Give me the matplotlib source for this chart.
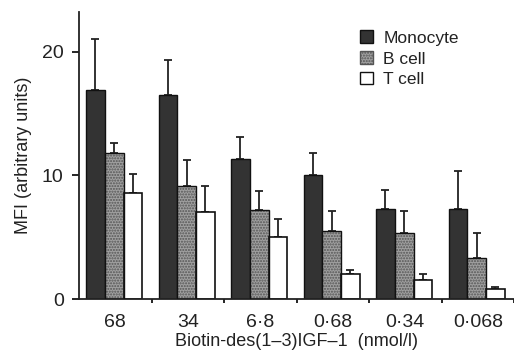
import matplotlib
matplotlib.use("Agg")
import matplotlib.pyplot as plt
import numpy as np

plt.rcParams['font.family'] = ['Liberation Sans', 'DejaVu Sans']

categories = ['68', '34', '6·8', '0·68', '0·34', '0·068']
series = ['Monocyte', 'B cell', 'T cell']
monocyte = [16.9, 16.5, 11.3, 10.0, 7.3, 7.3]
monocyte_err = [4.15, 2.85, 1.8, 1.8, 1.5, 3.05]
bcell = [11.8, 9.1, 7.2, 5.5, 5.3, 3.3]
bcell_err = [0.8, 2.15, 1.55, 1.6, 1.8, 2.0]
tcell = [8.6, 7.05, 5.0, 2.0, 1.5, 0.8]
tcell_err = [1.5, 2.05, 1.5, 0.35, 0.5, 0.2]

fig = plt.figure(figsize=(5.14, 3.54), dpi=100)
ax = fig.add_axes([79/514, 55/354, (514-79)/514, 287/354])

x = np.arange(len(categories))
w = 0.258
offs = [-w - 0.015, -0.015, w - 0.015]

# Monocyte
ax.bar(x + offs[0], monocyte, w, color='#333333', edgecolor='#111111', linewidth=1.0, zorder=2)
# B cell (dotted grey)
ax.bar(x + offs[1], bcell, w, color='#a0a0a0', edgecolor='#555555', hatch='......', linewidth=0, zorder=2)
ax.bar(x + offs[1], bcell, w, color='none', edgecolor='#111111', linewidth=1.0, zorder=3)
# T cell
ax.bar(x + offs[2], tcell, w, color='white', edgecolor='#111111', linewidth=1.2, zorder=2)

for vals, errs, o in [(monocyte, monocyte_err, offs[0]), (bcell, bcell_err, offs[1]), (tcell, tcell_err, offs[2])]:
    ax.errorbar(x + o, vals, yerr=[np.zeros(len(vals)), errs], fmt='none', ecolor='#222222',
                elinewidth=1.3, capsize=3.2, capthick=1.3, zorder=1)

ax.set_xlim(-0.5, 5.41)
ax.set_ylim(0, 23.2)
ax.set_yticks([0, 10, 20])
ax.set_yticklabels(['0', '10', '20'], fontsize=14, color='#222222')
ax.set_xticks(x + 0.5)
ax.set_xticklabels([])
ax.set_xticks(x, minor=True)
ax.set_xticklabels(categories, minor=True, fontsize=14, color='#222222')
ax.tick_params(axis='x', which='minor', length=0, pad=11)
ax.tick_params(axis='x', which='major', length=3, width=1.2, direction='out')
ax.tick_params(axis='y', length=5, width=1.2, direction='out', pad=6)
for s in ['top', 'right']:
    ax.spines[s].set_visible(False)
for s in ['left', 'bottom']:
    ax.spines[s].set_linewidth(1.3)
    ax.spines[s].set_color('#222222')

ax.set_ylabel('MFI (arbitrary units)', fontsize=13, color='#222222', labelpad=7)
ax.set_xlabel('Biotin-des(1–3)IGF–1  (nmol/l)', fontsize=13, color='#222222', labelpad=1)

from matplotlib.patches import Patch
handles = [Patch(facecolor='#333333', edgecolor='#111111'),
           Patch(facecolor='#a0a0a0', edgecolor='#555555', hatch='......'),
           Patch(facecolor='white', edgecolor='#111111')]
leg = ax.legend(handles, series, loc='upper left', bbox_to_anchor=(0.61, 0.99), frameon=False,
                fontsize=12.5, handlelength=0.75, handleheight=0.75, handletextpad=0.6, labelspacing=0.3)
for t in leg.get_texts():
    t.set_color('#222222')

fig.savefig('out.png', dpi=100)
